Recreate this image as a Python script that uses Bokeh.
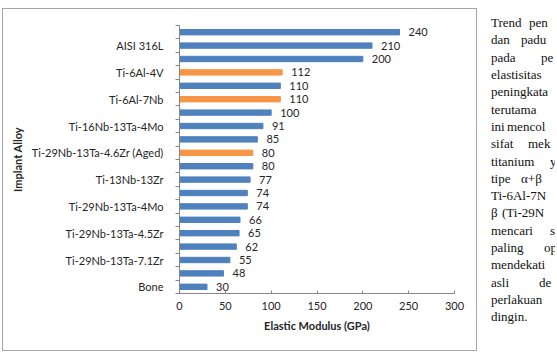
from bokeh.plotting import figure
from bokeh.layouts import row
from bokeh.models import Range1d, FixedTicker, ColumnDataSource, Div
from bokeh.core.properties import value
from bokeh.embed import file_html
from bokeh.resources import INLINE

# Elastic modulus of implant alloys, listed top to bottom
labels = ["", "AISI 316L", "", "Ti-6Al-4V", "", "Ti-6Al-7Nb", "", "Ti-16Nb-13Ta-4Mo",
          "", "Ti-29Nb-13Ta-4.6Zr (Aged)", "", "Ti-13Nb-13Zr", "", "Ti-29Nb-13Ta-4Mo",
          "", "Ti-29Nb-13Ta-4.5Zr", "", "Ti-29Nb-13Ta-7.1Zr", "", "Bone"]
modulus = [240, 210, 200, 112, 110, 110, 100, 91, 85, 80,
           80, 77, 74, 74, 66, 65, 62, 55, 48, 30]
highlight = [False, False, False, True, False, True, False, False, False, True,
             False, False, False, False, False, False, False, False, False, False]
x_ticks = [0, 50, 100, 150, 200, 250, 300]

# Side paragraph (only the visible part of each line)
para_lines = [
    ["Trend", "pen"], ["dan", "padu"], ["pada", "pe"], ["elastisitas"],
    ["peningkata"], ["terutama"], ["ini", "mencol"], ["sifat", "mek"],
    ["titanium", "y"], ["tipe", "α+β"], ["Ti-6Al-7N"], ["β", "(Ti-29N"],
    ["mencari", "s"], ["paling", "op"], ["mendekati"], ["asli", "de"],
    ["perlakuan"], ["dingin."],
]
para_word_x = [
    [493, 531], [493, 523], [493, 543], [493], [493], [493], [493, 509], [493, 530],
    [493, 552], [493, 523], [493], [493, 504], [493, 552], [493, 546], [493],
    [493, 541], [493], [493],
]

BLUE = "#4F81BD"
ORANGE = "#F79646"
TEXT = "#262626"
AXIS = "#868686"

n = len(modulus)
ypos = [n - 0.5 - i for i in range(n)]
colors = [ORANGE if h else BLUE for h in highlight]
src = ColumnDataSource(dict(y=ypos, v=modulus, c=colors, t=[str(v) for v in modulus]))

# chart box: page pixels 2..479 x 8..352, frame at 179..453.5 x 25..293
BOX_L, BOX_T, BOX_W, BOX_H = 2, 8, 475, 343
OX, OY = BOX_L + 1, BOX_T + 1          # canvas origin inside the 1px border
FL, FR, FT, FB = 179, 453.5, 25, 293

chart = figure(width=BOX_W, height=BOX_H, output_backend="svg", toolbar_location=None,
               x_range=Range1d(0, 300), y_range=Range1d(0, n),
               min_border_left=FL - OX, min_border_right=int(round(OX + BOX_W - FR)),
               min_border_top=FT - OY, min_border_bottom=OY + BOX_H - FB,
               margin=(BOX_T, 0, 0, BOX_L),
               styles={"border": "1px solid #a6a6a6"})
chart.outline_line_color = None
chart.background_fill_color = "white"
chart.border_fill_color = "white"
chart.grid.visible = False

chart.hbar(y="y", left=0, right="v", height=0.4, color="c", source=src)
chart.text(x="v", y="y", text="t", source=src, x_offset=9, text_align="left",
           text_baseline="middle", text_font=value("Lato"), text_font_size="11px",
           text_color=TEXT)

# x axis
xa = chart.xaxis[0]
xa.ticker = FixedTicker(ticks=x_ticks)
xa.axis_line_color = AXIS
xa.major_tick_line_color = AXIS
xa.major_tick_in = 3
xa.major_tick_out = 0
xa.minor_tick_line_color = None
xa.major_label_standoff = 8
xa.major_label_text_font = "Lato"
xa.major_label_text_font_size = "11px"
xa.major_label_text_color = TEXT
xa.axis_label = "Elastic Modulus (GPa)"
xa.axis_label_standoff = 6
xa.axis_label_text_font = "Lato"
xa.axis_label_text_font_style = "bold"
xa.axis_label_text_font_size = "11px"
xa.axis_label_text_color = TEXT

# y axis: labels on every other bar, ticks between all bars
ya = chart.yaxis[0]
label_pos = [ypos[i] for i in range(n) if labels[i]]
ya.ticker = FixedTicker(ticks=label_pos, minor_ticks=list(range(n + 1)))
ya.major_label_overrides = {ypos[i]: labels[i] for i in range(n) if labels[i]}
ya.axis_line_color = AXIS
ya.major_tick_line_color = None
ya.major_tick_in = 0
ya.major_tick_out = 0
ya.minor_tick_line_color = AXIS
ya.minor_tick_in = 0
ya.minor_tick_out = 4
ya.major_label_standoff = 12
ya.major_label_text_font = "Lato"
ya.major_label_text_font_size = "11px"
ya.major_label_text_color = TEXT
ya.axis_label = "Implant Alloy"
ya.axis_label_standoff = 5
ya.axis_label_text_font = "Lato"
ya.axis_label_text_font_style = "bold"
ya.axis_label_text_font_size = "11px"
ya.axis_label_text_color = TEXT

# side paragraph, words placed at page pixel positions
TX0 = OX + BOX_W + 1
spans = []
for i, (words, xs) in enumerate(zip(para_lines, para_word_x)):
    baseline = 27 + 17.3 * i
    for w, x in zip(words, xs):
        spans.append(
            f'<span style="position:absolute;left:{x - TX0}px;top:{baseline - 10.9:.1f}px;'
            f'white-space:nowrap">{w}</span>')
html = ('<div style="position:relative;width:%dpx;height:354px;overflow:hidden;'
        'font-family:\'Liberation Serif\';font-size:13px;line-height:13px;color:#111">%s</div>'
        % (557 - TX0, "".join(spans)))
side = Div(text=html, width=557 - TX0, height=354, margin=(0, 0, 0, 0))

layout = row(chart, side)
open("out.html", "w").write(file_html(layout, INLINE))
